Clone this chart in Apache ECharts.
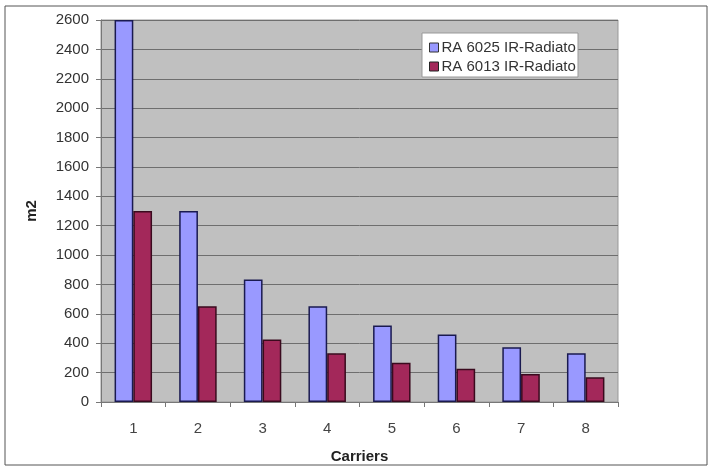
<!DOCTYPE html>
<html>
<head>
<meta charset="utf-8">
<script src="https://cdn.jsdelivr.net/npm/echarts@6/dist/echarts.min.js"></script>
<style>
html,body{margin:0;padding:0;background:#fff;}
#main{width:709px;height:467px;}
</style>
</head>
<body>
<div id="main"></div>
<script>
var carriers = ['1','2','3','4','5','6','7','8'];
var ra6025 = [2600, 1300, 833, 652, 520, 460, 372, 331];
var ra6013 = [1300, 652, 425, 331, 267, 227, 191, 168];
var seriesNames = ['RA 6025 IR-Radiato', 'RA 6013 IR-Radiato'];

var myChart = echarts.init(document.getElementById('main'));
var option = {
	backgroundColor: '#fff',
	animation: false,
	graphic: [
		{type: 'rect', shape: {x: 5, y: 6, width: 702, height: 459}, style: {fill: 'none', stroke: '#555', lineWidth: 1}, z: -1},
		{type: 'rect', shape: {x: 422, y: 33, width: 156, height: 44}, style: {fill: '#fff', stroke: '#999', lineWidth: 1}, z: 5}
	],
	grid: {
		left: 101,
		top: 20,
		width: 517,
		height: 382,
		outerBoundsMode: 'none',
		containLabel: false,
		show: true,
		backgroundColor: '#c0c0c0',
		borderColor: '#999',
		borderWidth: 1
	},
	legend: {
		left: 424,
		top: 35,
		orient: 'vertical',
		itemGap: 4,
		itemWidth: 9,
		itemHeight: 9,
		z: 6,
		textStyle: {fontFamily: 'Liberation Sans', fontSize: 15, color: '#333', padding: [0, 0, 0, -2]},
		data: [
			{name: seriesNames[0], icon: 'rect', itemStyle: {borderColor: '#333', borderWidth: 1}},
			{name: seriesNames[1], icon: 'rect', itemStyle: {borderColor: '#222', borderWidth: 1}}
		]
	},
	xAxis: {
		type: 'category',
		data: carriers,
		name: 'Carriers',
		nameLocation: 'middle',
		nameGap: 47,
		nameTextStyle: {fontFamily: 'Liberation Sans', fontSize: 15, fontWeight: 'bold', color: '#222'},
		axisLine: {lineStyle: {color: '#777', width: 1}},
		axisTick: {show: true, length: 5, lineStyle: {color: '#777'}},
		axisLabel: {fontFamily: 'Liberation Sans', fontSize: 15, color: '#444', margin: 19}
	},
	yAxis: {
		type: 'value',
		min: 0,
		max: 2600,
		interval: 200,
		name: 'm2',
		nameLocation: 'middle',
		nameGap: 62,
		nameTextStyle: {fontFamily: 'Liberation Sans', fontSize: 15, fontWeight: 'bold', color: '#222'},
		axisLine: {show: true, lineStyle: {color: '#777', width: 1}},
		axisTick: {show: true, length: 5, lineStyle: {color: '#777'}},
		axisLabel: {fontFamily: 'Liberation Sans', fontSize: 15, color: '#333', margin: 12,
			formatter: function (v) { return String(v); }},
		splitLine: {lineStyle: {color: '#6e6e6e', width: 1}}
	},
	series: [
		{
			name: seriesNames[0],
			type: 'bar',
			data: ra6025,
			barGap: '0%',
			barCategoryGap: '42%',
			itemStyle: {color: '#9999ff', borderColor: '#1a1a50', borderWidth: 1.5}
		},
		{
			name: seriesNames[1],
			type: 'bar',
			data: ra6013,
			itemStyle: {color: '#a3285a', borderColor: '#3a0a1e', borderWidth: 1.5}
		}
	]
};
myChart.setOption(option);
</script>
</body>
</html>
